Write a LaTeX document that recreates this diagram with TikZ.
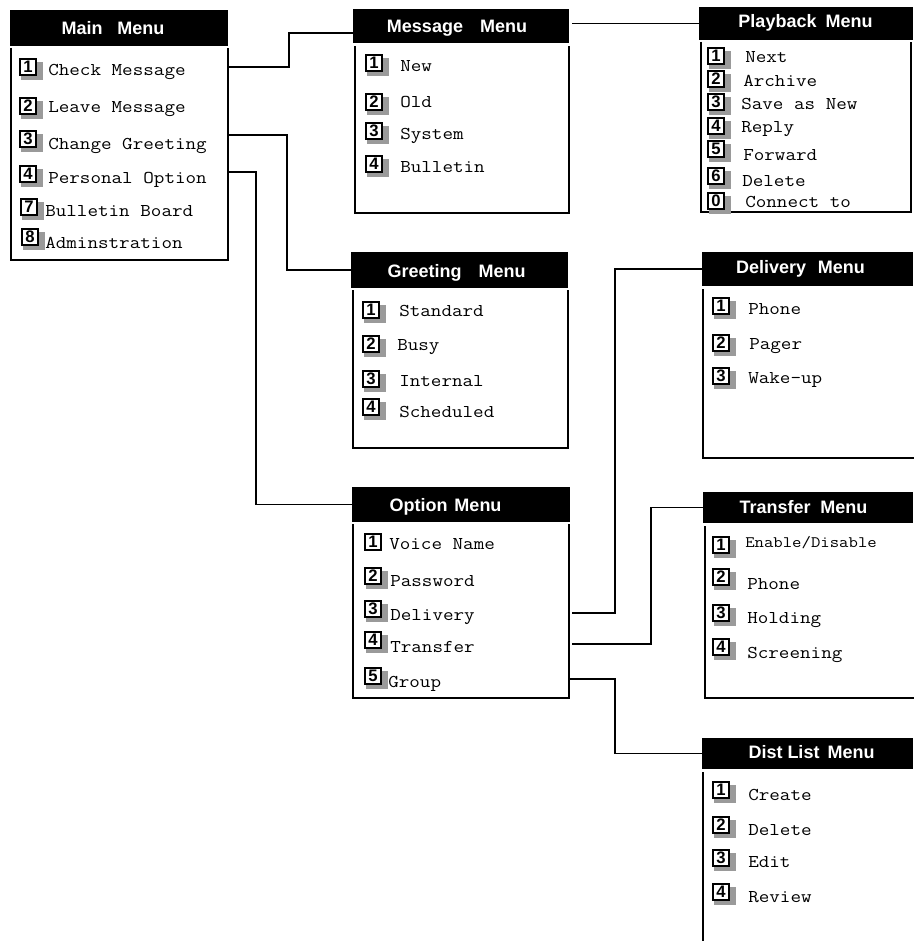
\documentclass[tikz,border=0pt]{standalone}
\usepackage{fontspec}
\setmainfont{Liberation Sans}
\newfontfamily\monof[FakeStretch=1.14]{Latin Modern Mono}
\usetikzlibrary{calc}
\definecolor{shadegray}{HTML}{9A9A9A}
\tikzset{
  hdr/.style={fill=black, inner sep=0pt, outer sep=0pt},
  hdrtext/.style={text=white, anchor=base, inner sep=0pt, font=\fontsize{13.5}{16}\selectfont\bfseries},
  body/.style={line width=1.3pt},
  conn/.style={line width=1.3pt},
  numbox/.style={draw=black, fill=white, line width=1.1pt, minimum width=12pt, minimum height=12pt, inner sep=0pt, font=\fontsize{12.5}{12.5}\selectfont\bfseries},
  itemtext/.style={anchor=base west, inner sep=0pt, font=\monof\fontsize{13.5}{16}\selectfont},
}
% #1 shadow colour, #2 name, #3 box left x, #4 box centre y, #5 digit, #6 text x, #7 text baseline y, #8 text
\newcommand\mitem[8][shadegray]{%
  \fill[#1] (#3+1,#4-5) rectangle (#3+23,#4+13);
  \node[numbox] (#2n) at (#3+8,#4) {#5};
  \node[itemtext] (#2t) at (#6,#7) {#8};
}
\begin{document}
\begin{tikzpicture}[x=0.75pt,y=-0.75pt]
\useasboundingbox (0,0) rectangle (913,941);

% ---------- headers ----------
\node[hdr, minimum width=163.5pt, minimum height=27pt] (mainH) at (119,28) {};
\node[hdrtext] (mainL) at (113,35) {Main\hspace{11pt}Menu};

\node[hdr, minimum width=162pt, minimum height=25.5pt] (msgH) at (461,26) {};
\node[hdrtext] (msgL) at (457,33) {Message\hspace{12.75pt}Menu};

\node[hdr, minimum width=160.5pt, minimum height=24.75pt] (pbH) at (806,23.5) {};
\node[hdrtext] (pbL) at (805.5,28) {Playback\hspace{6.75pt}Menu};

\node[hdr, minimum width=162.75pt, minimum height=27pt] (grH) at (459.5,270) {};
\node[hdrtext] (grL) at (456.5,277) {Greeting\hspace{12.75pt}Menu};

\node[hdr, minimum width=158.25pt, minimum height=25.5pt] (delH) at (807.5,269) {};
\node[hdrtext] (delL) at (800.5,273) {Delivery\hspace{8.8pt}Menu};

\node[hdr, minimum width=163.5pt, minimum height=26.25pt] (optH) at (461,504.5) {};
\node[hdrtext] (optL) at (445.5,511) {Option\hspace{5.25pt}Menu};

\node[hdr, minimum width=157.5pt, minimum height=23.25pt] (trH) at (808,507.5) {};
\node[hdrtext] (trL) at (803.5,513) {Transfer\hspace{7.3pt}Menu};

\node[hdr, minimum width=158.25pt, minimum height=23.25pt] (distH) at (807.5,753.5) {};
\node[hdrtext] (distL) at (811.5,758) {Dist List\hspace{6pt}Menu};

% ---------- bodies ----------
\draw[body] (11,48) -- (11,260) -- (228,260) -- (228,48);
\draw[body] (355,46) -- (355,213) -- (569,213) -- (569,46);
\draw[body] (701,42) -- (701,212) -- (911,212) -- (911,42);
\draw[body] (353,290) -- (353,448) -- (568,448) -- (568,290);
\draw[body] (703,289) -- (703,458) -- (915,458);
\draw[body] (353,524) -- (353,698) -- (569,698) -- (569,524);
\draw[body] (705,526) -- (705,698) -- (915,698);
\draw[body] (703,772) -- (703,943);

% ---------- items ----------
\mitem{m1}{20}{67}{1}{48}{76}{Check Message}
\mitem{m2}{20}{106}{2}{48}{113}{Leave Message}
\mitem{m3}{20}{139}{3}{48}{150}{Change Greeting}
\mitem{m4}{20}{174}{4}{48}{184}{Personal Option}
\mitem{m7}{21}{207}{7}{45}{217}{Bulletin Board}
\mitem{m8}{22}{237}{8}{45}{248}{Adminstration}

\mitem{s1}{366}{63}{1}{400}{72}{New}
\mitem{s2}{366}{102}{2}{400}{108}{Old}
\mitem{s3}{366}{131}{3}{400}{140}{System}
\mitem{s4}{366}{164}{4}{400}{173}{Bulletin}

\mitem{p1}{708}{56}{1}{745}{63}{Next}
\mitem{p2}{708}{79}{2}{743}{87}{Archive}
\mitem{p3}{708}{102}{3}{741}{110}{Save as New}
\mitem{p4}{708}{126}{4}{741}{133}{Reply}
\mitem{p5}{708}{149}{5}{743}{161}{Forward}
\mitem{p6}{708}{176}{6}{742}{187}{Delete}
\mitem{p0}{708}{201}{0}{745}{208}{Connect to}

\mitem{g1}{363}{310}{1}{399}{316}{Standard}
\mitem{g2}{363}{344}{2}{397}{350}{Busy}
\mitem{g3}{363}{379}{3}{399}{386}{Internal}
\mitem{g4}{363}{407}{4}{399}{417}{Scheduled}

\mitem{d1}{713}{306}{1}{748}{314}{Phone}
\mitem{d2}{713}{343}{2}{749}{349}{Pager}
\mitem{d3}{713}{376}{3}{748}{383}{Wake-up}

\mitem[white]{o1}{365}{542}{1}{389}{549}{Voice Name}
\mitem{o2}{365}{576}{2}{390}{586}{Password}
\mitem{o3}{365}{609}{3}{390}{620}{Delivery}
\mitem{o4}{365}{640}{4}{390}{652}{Transfer}
\mitem{o5}{365}{676}{5}{388}{687}{Group}

\mitem{t1}{713}{545}{1}{745}{547}{\fontsize{12}{14}\selectfont Enable/Disable}
\mitem{t2}{713}{577}{2}{747}{589}{Phone}
\mitem{t3}{713}{613}{3}{747}{623}{Holding}
\mitem{t4}{713}{647}{4}{747}{658}{Screening}

\mitem{l1}{713}{790}{1}{748}{800}{Create}
\mitem{l2}{713}{825}{2}{748}{835}{Delete}
\mitem{l3}{713}{858}{3}{748}{867}{Edit}
\mitem{l4}{713}{892}{4}{748}{902}{Review}

% ---------- connectors ----------
\coordinate (mainOut1) at (228,67);
\coordinate (mainOut3) at (228,135);
\coordinate (mainOut4) at (228,172);
\coordinate (optOut3) at (572,613);
\coordinate (optOut4) at (572,644);
\coordinate (optOut5) at (569,679);

\draw[conn] (mainOut1) -- (289,67) -- (289,33) -- ($(msgH.west)+(0,7)$);
\draw[conn] ($(msgH.east |- pbH.west)+(3,0)$) -- (pbH.west);
\draw[conn] (mainOut3) -- (287,135) |- (grH.west);
\draw[conn] (mainOut4) -- (256,172) |- (optH.west);
\draw[conn] (optOut3) -- (615,613) |- (delH.west);
\draw[conn] (optOut4) -- (651,644) |- (trH.west);
\draw[conn] (optOut5) -- (615,679) |- (distH.west);
\end{tikzpicture}
\end{document}
